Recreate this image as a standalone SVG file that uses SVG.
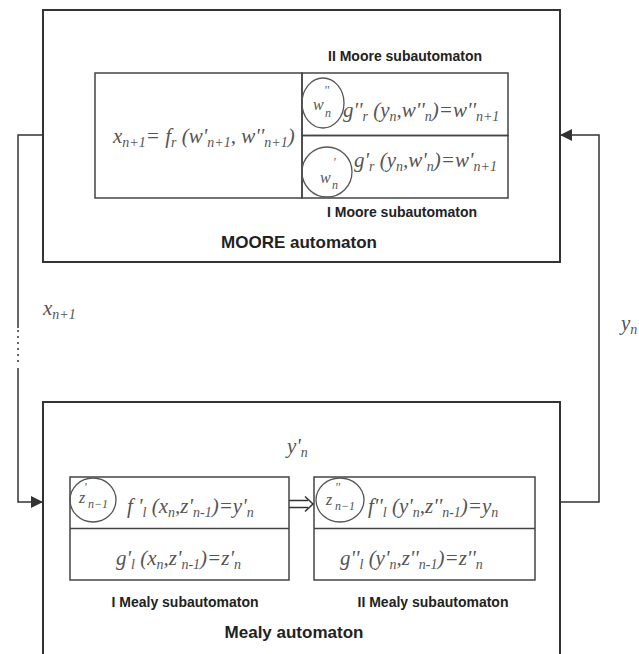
<svg xmlns="http://www.w3.org/2000/svg" width="639" height="654" viewBox="0 0 639 654">
<style>
.box{fill:none;stroke:#333;stroke-width:2}
.sub{fill:none;stroke:#444;stroke-width:1.5}
.ln{fill:none;stroke:#333;stroke-width:1.5}
.ov{fill:none;stroke:#555;stroke-width:1.3}
.lbl{font-family:"Liberation Sans",Arial,sans-serif;font-weight:bold;fill:#222}
.m{font-family:"Liberation Serif","Times New Roman",serif;font-style:italic;fill:#555;font-size:21px}
.c{font-family:"Liberation Serif","Times New Roman",serif;font-style:italic;fill:#555;font-size:16px}
.s{font-size:14px}
.cs{font-size:12px}
</style>
<defs>
<marker id="ah" markerWidth="12" markerHeight="12" refX="12" refY="6" orient="auto" markerUnits="userSpaceOnUse"><path d="M0,0 L12,6 L0,12 z" fill="#333"/></marker>
</defs>
<rect width="639" height="654" fill="#fff"/>

<g id="moore">
<rect class="box" x="43" y="10" width="517" height="252"/>
<text class="lbl" x="299" y="248" font-size="17" text-anchor="middle">MOORE automaton</text>
</g>

<g id="moore-f">
<rect class="sub" x="95" y="73" width="207" height="125"/>
<text class="m" x="113" y="143">x<tspan class="s" dy="4">n+1</tspan><tspan dy="-4">= f</tspan><tspan class="s" dy="4">r</tspan><tspan dy="-4"> (w'</tspan><tspan class="s" dy="4">n+1</tspan><tspan dy="-4">, w''</tspan><tspan class="s" dy="4">n+1</tspan><tspan dy="-4">)</tspan></text>
</g>

<g id="moore-sub2">
<rect class="sub" x="302" y="73" width="206" height="62.5"/>
<ellipse class="ov" cx="323" cy="103" rx="21" ry="25"/>
<text class="c" x="313" y="110">w</text><text class="c cs" x="325" y="117">n</text><text class="c cs" x="324" y="94">''</text>
<text class="m" x="343" y="117">g''<tspan class="s" dy="4">r</tspan><tspan dy="-4"> (y</tspan><tspan class="s" dy="4">n</tspan><tspan dy="-4">,w''</tspan><tspan class="s" dy="4">n</tspan><tspan dy="-4">)=w''</tspan><tspan class="s" dy="4">n+1</tspan></text>
<text class="lbl" x="405" y="61" font-size="14" text-anchor="middle">II Moore subautomaton</text>
</g>

<g id="moore-sub1">
<rect class="sub" x="302" y="135.5" width="206" height="62.5"/>
<ellipse class="ov" cx="327" cy="172" rx="25" ry="25"/>
<text class="c" x="320" y="183">w</text><text class="c cs" x="332" y="189">n</text><text class="c cs" x="333" y="166">'</text>
<text class="m" x="354" y="167">g'<tspan class="s" dy="4">r</tspan><tspan dy="-4"> (y</tspan><tspan class="s" dy="4">n</tspan><tspan dy="-4">,w'</tspan><tspan class="s" dy="4">n</tspan><tspan dy="-4">)=w'</tspan><tspan class="s" dy="4">n+1</tspan></text>
<text class="lbl" x="402" y="217" font-size="14" text-anchor="middle">I Moore subautomaton</text>
</g>

<g id="mealy">
<rect class="box" x="43" y="402" width="517" height="262"/>
<text class="lbl" x="294" y="638" font-size="17" text-anchor="middle">Mealy automaton</text>
</g>

<g id="mealy-sub1">
<rect class="sub" x="70" y="477" width="219" height="103"/>
<line class="sub" x1="70" y1="528.5" x2="289" y2="528.5"/>
<ellipse class="ov" cx="93" cy="500" rx="23" ry="22"/>
<text class="c" x="79" y="503">z</text><text class="c cs" x="88" y="508">n−1</text><text class="c cs" x="84" y="491">'</text>
<text class="m" x="127" y="513">f '<tspan class="s" dy="4">l</tspan><tspan dy="-4"> (x</tspan><tspan class="s" dy="4">n</tspan><tspan dy="-4">,z'</tspan><tspan class="s" dy="4">n-1</tspan><tspan dy="-4">)=y'</tspan><tspan class="s" dy="4">n</tspan></text>
<text class="m" x="116" y="565">g'<tspan class="s" dy="4">l</tspan><tspan dy="-4"> (x</tspan><tspan class="s" dy="4">n</tspan><tspan dy="-4">,z'</tspan><tspan class="s" dy="4">n-1</tspan><tspan dy="-4">)=z'</tspan><tspan class="s" dy="4">n</tspan></text>
<text class="lbl" x="185" y="607" font-size="14" text-anchor="middle">I Mealy subautomaton</text>
</g>

<g id="mealy-sub2">
<rect class="sub" x="314" y="477" width="221" height="103"/>
<line class="sub" x1="314" y1="528.5" x2="535" y2="528.5"/>
<ellipse class="ov" cx="340" cy="500" rx="24" ry="22"/>
<text class="c" x="326" y="505">z</text><text class="c cs" x="335" y="510">n−1</text><text class="c cs" x="335" y="491">''</text>
<text class="m" x="368" y="513">f''<tspan class="s" dy="4">l</tspan><tspan dy="-4"> (y'</tspan><tspan class="s" dy="4">n</tspan><tspan dy="-4">,z''</tspan><tspan class="s" dy="4">n-1</tspan><tspan dy="-4">)=y</tspan><tspan class="s" dy="4">n</tspan></text>
<text class="m" x="340" y="565">g''<tspan class="s" dy="4">l</tspan><tspan dy="-4"> (y'</tspan><tspan class="s" dy="4">n</tspan><tspan dy="-4">,z''</tspan><tspan class="s" dy="4">n-1</tspan><tspan dy="-4">)=z''</tspan><tspan class="s" dy="4">n</tspan></text>
<text class="lbl" x="433" y="607" font-size="14" text-anchor="middle">II Mealy subautomaton</text>
</g>

<g id="connectors">
<path class="ln" d="M43,135 H18 V328"/>
<path class="ln" d="M18,330 V366" stroke-dasharray="2 4"/>
<path class="ln" d="M18,368 V502 H43" marker-end="url(#ah)"/>
<path class="ln" d="M560,502 H599 V135 H560" marker-end="url(#ah)"/>
<path class="ln" d="M289,500.5 H308 M289,507.5 H308 M305,496.5 L313,504 L305,511.5"/>
</g>

<g id="labels">
<text class="m" x="43" y="315" font-size="19">x<tspan class="s" dy="4">n+1</tspan></text>
<text class="m" x="287" y="453">y'<tspan class="s" dy="4">n</tspan></text>
<text class="m" x="621" y="330">y<tspan class="s" dy="4">n</tspan></text>
</g>
</svg>
